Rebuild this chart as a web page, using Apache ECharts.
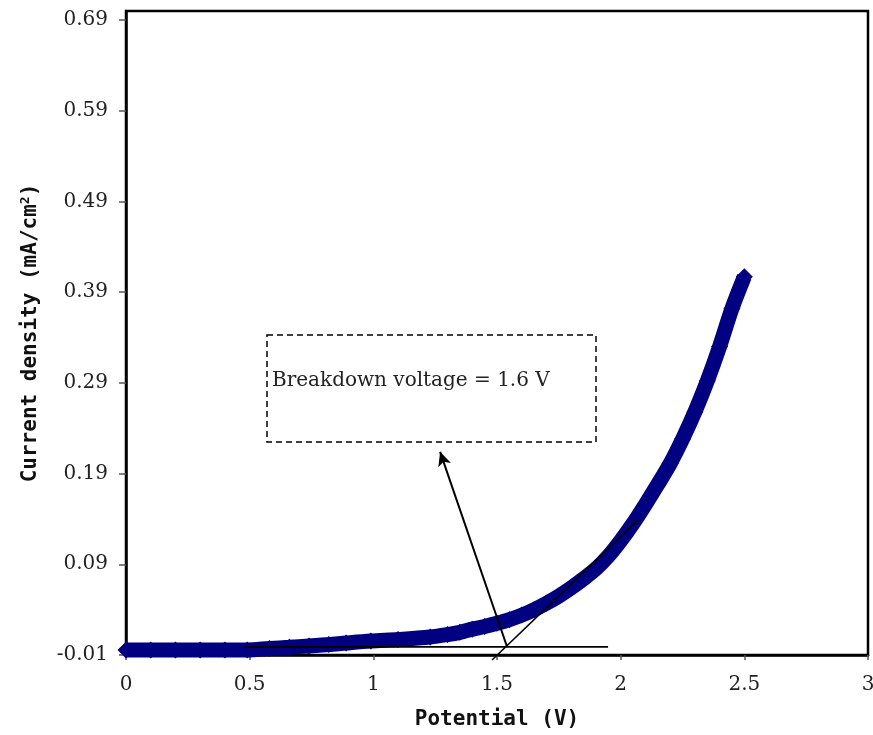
<!DOCTYPE html>
<html>
<head>
<meta charset="utf-8">
<script src="https://cdn.jsdelivr.net/npm/echarts@6/dist/echarts.min.js"></script>
<style>
  html, body { margin: 0; padding: 0; background: #fff; }
  #chart { width: 873px; height: 735px; }
</style>
</head>
<body>
<div id="chart"></div>
<script>
// 曲线数据（电位 V, 电流密度 mA/cm2）
const potential = [0, 0.1, 0.2, 0.3, 0.4, 0.49, 0.58, 0.66, 0.74, 0.82, 0.89, 0.99, 1.1, 1.23, 1.3, 1.35,
  1.4, 1.45, 1.5, 1.55, 1.6, 1.65, 1.7, 1.75, 1.8, 1.85, 1.9, 1.95, 2.0, 2.05, 2.1, 2.15, 2.2,
  2.25, 2.3, 2.35, 2.4, 2.45, 2.5];
const current = [-0.0045, -0.0045, -0.0045, -0.0045, -0.0045, -0.0045, -0.0028, -0.0015, 0.0, 0.0015, 0.0032, 0.0054, 0.0071, 0.0098, 0.0125, 0.015,
  0.0185, 0.0215, 0.025, 0.029, 0.034, 0.040, 0.047, 0.055, 0.064, 0.074, 0.085, 0.099, 0.116, 0.135, 0.156, 0.178, 0.201,
  0.228, 0.258, 0.292, 0.330, 0.372, 0.407];

// 切线与基线
const baseLineX = [0.481, 1.949];
const baseLineY = [-0.001, -0.001];
const tangentX = [1.48, 2.07];
const tangentY = [-0.0155, 0.139];
const arrowFrom = [1.541, -0.0012];
const arrowTo = [1.270, 0.214];

// 坐标轴刻度
const xTicks = [0, 0.5, 1, 1.5, 2, 2.5, 3];
const yTicks = [-0.01, 0.09, 0.19, 0.29, 0.39, 0.49, 0.59, 0.69];

const noteText = 'Breakdown voltage = 1.6 V';

const chart = echarts.init(document.getElementById('chart'));

const labelFont = {
  fontFamily: 'DejaVu Serif',
  fontSize: 20,
  color: '#222'
};
const nameFont = {
  fontFamily: 'DejaVu Sans Mono',
  fontSize: 21,
  fontWeight: 'bold',
  color: '#111'
};

const option = {
  animation: false,
  backgroundColor: '#fff',
  grid: {
    left: 126,
    right: 5,
    top: 11,
    bottom: 80,
    outerBoundsMode: 'none',
    show: true,
    borderColor: '#000',
    borderWidth: 2.5
  },
  xAxis: {
    type: 'value',
    min: 0,
    max: 3,
    interval: 0.5,
    name: 'Potential (V)',
    nameLocation: 'middle',
    nameGap: 54,
    nameTextStyle: nameFont,
    axisLine: { show: true, onZero: false, lineStyle: { color: '#000', width: 2.5 } },
    axisTick: { show: true, length: 5, lineStyle: { color: '#555', width: 1.5 }, customValues: xTicks },
    axisLabel: Object.assign({ margin: 20, customValues: xTicks, formatter: v => String(v) }, labelFont),
    splitLine: { show: false }
  },
  yAxis: {
    type: 'value',
    min: -0.01,
    max: 0.70,
    name: 'Current density (mA/cm{sup|2})',
    nameLocation: 'middle',
    nameGap: 84,
    nameRotate: 90,
    nameTextStyle: Object.assign({
      rich: {
        sup: { fontFamily: 'DejaVu Sans Mono', fontSize: 13, fontWeight: 'bold', verticalAlign: 'bottom', padding: [0, 0, 10, 0], color: '#111' }
      }
    }, nameFont),
    axisLine: { show: true, onZero: false, lineStyle: { color: '#000', width: 2.5 } },
    axisTick: { show: true, length: 7, lineStyle: { color: '#555', width: 1.5 }, customValues: yTicks },
    axisLabel: Object.assign({ margin: 18, customValues: yTicks, formatter: v => v.toFixed(2) }, labelFont),
    splitLine: { show: false }
  },
  graphic: [
    {
      type: 'rect',
      shape: { x: 267, y: 335, width: 329, height: 107 },
      style: { fill: 'none', stroke: '#000', lineWidth: 1.5, lineDash: [6, 4] },
      z: 10
    },
    {
      type: 'text',
      x: 272,
      y: 381,
      style: {
        text: noteText,
        fontFamily: 'DejaVu Serif',
        fontSize: 20,
        fill: '#222',
        verticalAlign: 'middle'
      },
      z: 10
    }
  ],
  series: [
    {
      name: 'current',
      type: 'line',
      data: potential.map((x, i) => [x, current[i]]),
      smooth: 0.3,
      symbol: 'diamond',
      symbolSize: 17,
      showSymbol: true,
      lineStyle: { color: '#000080', width: 15 },
      itemStyle: { color: '#000080' },
      z: 2
    },
    {
      name: 'baseline',
      type: 'line',
      data: baseLineX.map((x, i) => [x, baseLineY[i]]),
      symbol: 'none',
      lineStyle: { color: '#000', width: 1.6 },
      z: 5
    },
    {
      name: 'tangent',
      type: 'line',
      clip: false,
      data: tangentX.map((x, i) => [x, tangentY[i]]),
      symbol: 'none',
      lineStyle: { color: '#000', width: 1.6 },
      z: 5,
      markLine: {
        silent: true,
        symbol: ['none', 'arrow'],
        symbolSize: [10, 14],
        label: { show: false },
        lineStyle: { color: '#000', width: 2, type: 'solid' },
        data: [[{ coord: arrowFrom }, { coord: arrowTo }]]
      }
    }
  ]
};

chart.setOption(option);
window.addEventListener('resize', () => chart.resize());
</script>
</body>
</html>
